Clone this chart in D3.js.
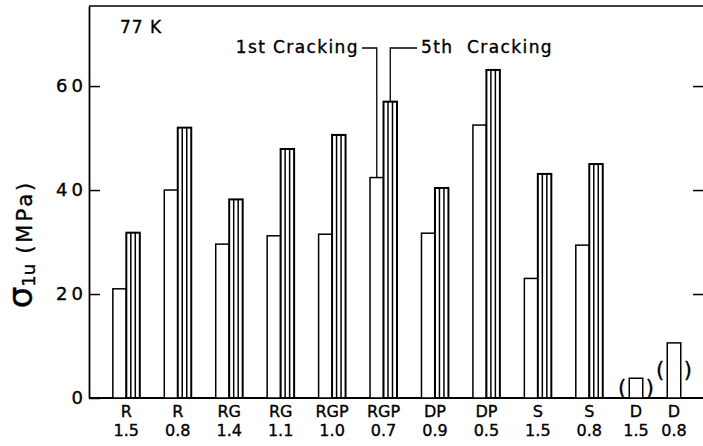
<!DOCTYPE html>
<html>
<head>
<meta charset="utf-8">
<script src="https://cdn.jsdelivr.net/npm/d3@7"></script>
<style>
    body { margin: 0; background: #fff; }
    svg { display: block; font-family: "DejaVu Sans", sans-serif; }
    svg text { fill: #000; stroke: #000; stroke-width: 0.35px; }
</style>
</head>
<body>
<div id="chart"></div>
<script>
// materials with both 1st and 5th cracking stress
var groups = ["R", "R", "RG", "RG", "RGP", "RGP", "DP", "DP", "S", "S"];
var ratios = ["1.5", "0.8", "1.4", "1.1", "1.0", "0.7", "0.9", "0.5", "1.5", "0.8"];
var firstCracking = [21.0, 40.0, 29.6, 31.2, 31.5, 42.4, 31.7, 52.5, 23.0, 29.4];
var fifthCracking = [31.8, 52.0, 38.2, 47.9, 50.6, 57.0, 40.4, 63.1, 43.1, 45.0];
// D material: single (bracketed) value only
var dGroups = ["D", "D"];
var dRatios = ["1.5", "0.8"];
var dValues = [3.8, 10.6];
var yTicks = [0, 20, 40, 60];

(function () {
    var width = 703, height = 446;
    var plotLeft = 89, plotRight = 703, plotTop = 6, plotBottom = 398;

    var svg = d3.select('#chart').append('svg')
        .attr('xmlns', 'http://www.w3.org/2000/svg')
        .attr('width', width)
        .attr('height', height);

    var keys = groups.map(function (g, i) { return g + ' ' + ratios[i]; });
    var dKeys = dGroups.map(function (g, i) { return g + ' ' + dRatios[i]; });

    var x = d3.scaleBand().domain(keys).range([100.6, 615]);
    var xd = d3.scaleBand().domain(dKeys).range([617, 693]);
    var y = d3.scaleLinear().domain([0, 75.4]).range([plotBottom, plotTop]);
    var barW = x.bandwidth() * 0.262;

    // frame
    svg.append('line').attr('x1', plotLeft).attr('x2', plotRight).attr('y1', plotTop).attr('y2', plotTop)
        .attr('stroke', '#000').attr('stroke-width', 1.6);
    svg.append('line').attr('x1', plotLeft).attr('x2', plotRight).attr('y1', plotBottom).attr('y2', plotBottom)
        .attr('stroke', '#000').attr('stroke-width', 1.8);

    var yAxis = svg.append('g')
        .attr('transform', 'translate(' + plotLeft + ',0)')
        .call(d3.axisLeft(y).tickValues(yTicks).tickSizeInner(-11).tickSizeOuter(0).tickPadding(7));
    yAxis.select('.domain').attr('stroke-width', 1.8);
    yAxis.selectAll('.tick line').attr('stroke-width', 1.5);
    yAxis.selectAll('.tick text')
        .attr('font-size', 18)
        .attr('font-family', '"DejaVu Sans", sans-serif')
        .attr('letter-spacing', 4)
        .attr('dx', 5);

    var yRight = svg.append('g')
        .attr('transform', 'translate(' + plotRight + ',0)')
        .call(d3.axisRight(y).tickValues(yTicks.slice(1)).tickSizeInner(-10).tickSizeOuter(0).tickFormat(''));
    yRight.select('.domain').remove();
    yRight.selectAll('.tick line').attr('stroke-width', 1.5);

    // 1st cracking bars (open)
    var pairs = svg.append('g');
    pairs.selectAll('rect.first').data(keys).enter().append('rect')
        .attr('class', 'first')
        .attr('x', function (k) { return x(k) + x.bandwidth() / 2 - barW; })
        .attr('y', function (k, i) { return y(firstCracking[i]); })
        .attr('width', barW)
        .attr('height', function (k, i) { return y(0) - y(firstCracking[i]); })
        .attr('fill', '#fff').attr('stroke', '#000').attr('stroke-width', 1.5);

    // 5th cracking bars (striped)
    var fifth = pairs.selectAll('g.fifth').data(keys).enter().append('g')
        .attr('class', 'fifth')
        .attr('transform', function (k) { return 'translate(' + (x(k) + x.bandwidth() / 2) + ',0)'; });
    fifth.append('rect')
        .attr('y', function (k, i) { return y(fifthCracking[i]); })
        .attr('width', barW)
        .attr('height', function (k, i) { return y(0) - y(fifthCracking[i]); })
        .attr('fill', '#fff').attr('stroke', '#000').attr('stroke-width', 2);
    [1, 2].forEach(function (s) {
        fifth.append('line')
            .attr('x1', barW * s / 3).attr('x2', barW * s / 3)
            .attr('y1', function (k, i) { return y(fifthCracking[i]); })
            .attr('y2', y(0))
            .attr('stroke', '#000').attr('stroke-width', 1.5);
    });

    // D bars with brackets
    var dBar = svg.append('g').selectAll('g').data(dKeys).enter().append('g')
        .attr('transform', function (k) { return 'translate(' + (xd(k) + xd.bandwidth() / 2) + ',0)'; });
    dBar.append('rect')
        .attr('x', -barW / 2)
        .attr('y', function (k, i) { return y(dValues[i]); })
        .attr('width', barW)
        .attr('height', function (k, i) { return y(0) - y(dValues[i]); })
        .attr('fill', '#fff').attr('stroke', '#000').attr('stroke-width', 1.5);
    dBar.append('text')
        .attr('x', -barW / 2 - 3)
        .attr('y', function (k, i) { return y(dValues[i] / 2) + 7; })
        .attr('text-anchor', 'end')
        .attr('font-size', 21)
        .text('(');
    dBar.append('text')
        .attr('x', barW / 2 + 3)
        .attr('y', function (k, i) { return y(dValues[i] / 2) + 7; })
        .attr('text-anchor', 'start')
        .attr('font-size', 21)
        .text(')');

    // category labels: material on one line, ratio below
    function addLabels(sel, scale, names, nums) {
        var lab = svg.append('g').selectAll('g').data(sel).enter().append('g')
            .attr('transform', function (k) { return 'translate(' + (scale(k) + scale.bandwidth() / 2) + ',0)'; });
        lab.append('text').attr('text-anchor', 'middle').attr('font-size', 16)
            .attr('y', 417).text(function (k, i) { return names[i]; });
        lab.append('text').attr('text-anchor', 'middle').attr('font-size', 16)
            .attr('y', 436).text(function (k, i) { return nums[i]; });
    }
    addLabels(keys, x, groups, ratios);
    addLabels(dKeys, xd, dGroups, dRatios);

    svg.append('text').attr('x', 120).attr('y', 33).attr('font-size', 17).attr('letter-spacing', 1).text('77 K');

    // legend leaders to the RGP 0.7 pair
    var legIdx = 5;
    var cx = x(keys[legIdx]) + x.bandwidth() / 2;
    var legY = 48;
    svg.append('path')
        .attr('d', 'M' + 362 + ',' + legY + 'H' + (cx - barW / 2) + 'V' + y(firstCracking[legIdx]))
        .attr('fill', 'none').attr('stroke', '#000').attr('stroke-width', 1.3);
    svg.append('path')
        .attr('d', 'M' + 417 + ',' + legY + 'H' + (cx + barW / 2) + 'V' + y(fifthCracking[legIdx]))
        .attr('fill', 'none').attr('stroke', '#000').attr('stroke-width', 1.3);
    svg.append('text').attr('x', 359).attr('y', 53).attr('text-anchor', 'end')
        .attr('font-size', 17).attr('letter-spacing', 1.4).text('1st Cracking');
    svg.append('text').attr('x', 421).attr('y', 53)
        .attr('font-size', 17).attr('letter-spacing', 1.4).attr('xml:space', 'preserve').text('5th  Cracking');

    // y title
    var title = svg.append('text')
        .attr('transform', 'translate(32,244) rotate(-90)')
        .attr('text-anchor', 'middle');
    title.append('tspan').attr('font-size', 34).text('σ');
    title.append('tspan').attr('font-size', 18).attr('dy', 3).text('1u');
    title.append('tspan').attr('font-size', 21).attr('dy', -3).attr('letter-spacing', 3).attr('dx', 10).text('(MPa)');
})();
</script>
</body>
</html>
